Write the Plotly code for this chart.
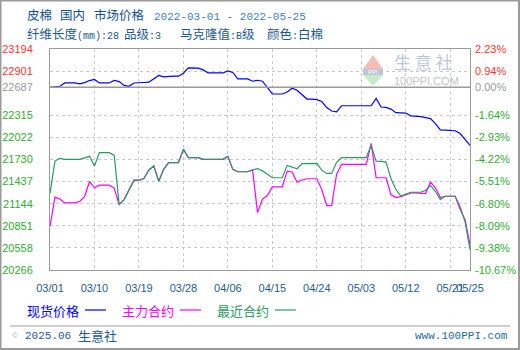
import pandas as pd
import plotly.graph_objects as go

# 皮棉 国内 市场价格, daily values 2022-03-01 .. 2022-05-25 (non-trading days carry the last quote)
dates = pd.date_range("2022-03-01", "2022-05-25", freq="D")

spot = [22687, 22694, 22700, 22744, 22744, 22744, 22731, 22748, 22776, 22791,
        22744, 22744, 22744, 22778, 22762, 22712, 22700, 22744, 22744, 22750,
        22754, 22794, 22844, 22824, 22832, 22834, 22834, 22873, 22944, 22944,
        22940, 22917, 22877, 22877, 22877, 22877, 22904, 22884, 22798, 22798,
        22798, 22767, 22780, 22767, 22682, 22598, 22598, 22598, 22624, 22674,
        22648, 22584, 22531, 22531, 22524, 22498, 22418, 22372, 22362, 22442,
        22442, 22442, 22442, 22442, 22442, 22442, 22540, 22425, 22421, 22398,
        22351, 22345, 22345, 22309, 22305, 22298, 22285, 22271, 22205, 22122,
        22120, 22119, 22111, 22074, 21998, 21918]

main_contract = [20844, 21232, 21206, 21155, 21155, 21155, 21173, 21239, 21439, 21355,
                 21390, 21390, 21390, 21352, 21133, 21199, 21322, 21456, 21456, 21479,
                 21592, 21643, 21443, 21599, 21688, 21688, 21688, 21865, 21755, 21755,
                 21755, 21732, 21732, 21732, 21732, 21732, 21772, 21599, 21568, 21568,
                 21568, 21592, 21026, 21206, 21252, 21368, 21368, 21368, 21576, 21565,
                 21430, 21459, 21475, 21475, 21475, 21332, 21119, 21119, 21532, 21665,
                 21665, 21665, 21665, 21665, 21665, 21945, 21488, 21488, 21488, 21266,
                 21226, 21239, 21266, 21288, 21288, 21288, 21279, 21430, 21355, 21226,
                 21243, 21243, 21243, 21066, 20933, 20600]

near_contract = [21279, 21709, 21745, 21732, 21732, 21732, 21732, 21752, 21772, 21645,
                 21821, 21821, 21821, 21785, 21133, 21199, 21322, 21456, 21456, 21479,
                 21592, 21643, 21443, 21599, 21688, 21688, 21688, 21865, 21755, 21755,
                 21755, 21732, 21732, 21732, 21732, 21732, 21772, 21599, 21568, 21568,
                 21568, 21592, 21608, 21579, 21532, 21488, 21488, 21488, 21652, 21625,
                 21608, 21675, 21679, 21679, 21679, 21589, 21545, 21545, 21692, 21755,
                 21755, 21755, 21755, 21755, 21755, 21918, 21709, 21705, 21696, 21479,
                 21332, 21246, 21266, 21296, 21296, 21296, 21319, 21386, 21306, 21199,
                 21243, 21243, 21243, 21106, 20906, 20533]

for s in (spot, main_contract, near_contract):
    if len(s) != len(dates):
        raise ValueError("series length mismatch")

base_price = 22687
y_ticks = [23194, 22901, 22687, 22315, 22022, 21730, 21437, 21144, 20851, 20558, 20266]
x_ticks = ["2022-03-01", "2022-03-10", "2022-03-19", "2022-03-28", "2022-04-06",
           "2022-04-15", "2022-04-24", "2022-05-03", "2022-05-12", "2022-05-21",
           "2022-05-25"]
x_labels = ["03/01", "03/10", "03/19", "03/28", "04/06", "04/15", "04/24",
            "05/03", "05/12", "05/21", "05/25"]
series_names = ["现货价格", "主力合约", "最近合约"]
series_colors = ["#0000ff", "#ff00ff", "#2e9a62"]

UP, FLAT, DOWN = "#ff3333", "#999999", "#33aa33"


def tick_color(v):
    return UP if v > base_price else (FLAT if v == base_price else DOWN)


left_text = [f"<span style='color:{tick_color(v)}'>{v}</span>" for v in y_ticks]
right_text = [f"<span style='color:{tick_color(v)}'>{(v / base_price - 1) * 100:.2f}%</span>"
              for v in y_ticks]

W, H = 520, 350
L, R, T, B = 50, 470, 49, 270


def px(x):
    return (x - L) / (R - L)


def py(y):
    return (B - y) / (B - T)


fig = go.Figure()
for name, ser, col in zip(series_names, [spot, main_contract, near_contract], series_colors):
    fig.add_trace(go.Scatter(x=dates, y=ser, mode="lines", name=name,
                             line=dict(color=col, width=1.2), showlegend=False,
                             hoverinfo="skip"))
# carrier for the percentage axis on the right
fig.add_trace(go.Scatter(x=[dates[0]], y=[base_price], yaxis="y2", mode="markers",
                         marker=dict(opacity=0), showlegend=False, hoverinfo="skip"))

tick_font = dict(family="Liberation Sans, Arial", size=11)
yrange = [min(y_ticks), max(y_ticks)]

fig.update_layout(
    width=W, height=H,
    margin=dict(l=L, r=W - R, t=T, b=H - B),
    paper_bgcolor="white", plot_bgcolor="white",
    xaxis=dict(range=[dates[0], dates[-1]], tickvals=x_ticks, ticktext=x_labels,
               tickangle=0,
               showgrid=True, gridcolor="#c8c8c8", griddash="3px,3px", gridwidth=1,
               showline=True, linecolor="#9a9a9a", linewidth=1, mirror=True,
               ticks="", ticklabelstandoff=8, zeroline=False, automargin=False,
               tickfont=dict(tick_font, color="#1f5c8c")),
    yaxis=dict(range=yrange, tickvals=y_ticks, ticktext=left_text,
               showgrid=True, gridcolor="#c8c8c8", griddash="3px,3px", gridwidth=1,
               showline=True, linecolor="#9a9a9a", linewidth=1, mirror=True,
               ticks="", ticklabelstandoff=14, zeroline=False, automargin=False,
               tickfont=tick_font),
    yaxis2=dict(range=yrange, tickvals=y_ticks, ticktext=right_text, overlaying="y",
                side="right", showgrid=False, showline=False, zeroline=False,
                ticks="", ticklabelstandoff=4, automargin=False, tickfont=tick_font),
)

shapes = []
# base price reference line
shapes.append(dict(type="line", xref="paper", yref="y", x0=0, x1=1,
                   y0=base_price, y1=base_price, line=dict(color="#9a9a9a", width=1.5)))
# outer frame and footer rule
shapes.append(dict(type="rect", xref="paper", yref="paper", x0=px(0.5), x1=px(519),
                   y0=py(0.5), y1=py(349), line=dict(color="#9a9a9a", width=2)))
shapes.append(dict(type="line", xref="paper", yref="paper", x0=px(10), x1=px(510),
                   y0=py(326), y1=py(326), line=dict(color="#a0a0a0", width=1)))

# watermark logo
shapes.append(dict(type="path", xref="paper", yref="paper", layer="below",
                   path=f"M {px(363)},{py(69)} L {px(383)},{py(69)} L {px(373)},{py(55)} Z",
                   fillcolor="#f6bdb5", line=dict(width=0)))
shapes.append(dict(type="rect", xref="paper", yref="paper", layer="below",
                   x0=px(363), x1=px(383), y0=py(75), y1=py(69),
                   fillcolor="#b9c6dc", line=dict(width=0)))
shapes.append(dict(type="path", xref="paper", yref="paper", layer="below",
                   path=f"M {px(363)},{py(75)} L {px(383)},{py(75)} L {px(373)},{py(86)} Z",
                   fillcolor="#c6ebc6", line=dict(width=0)))

annotations = []


def text(x, y, s, size=12.5, color="#104e8b", family="Liberation Mono, Noto Sans CJK SC",
         xanchor="left"):
    annotations.append(dict(x=px(x), y=py(y), xref="paper", yref="paper", text=s,
                            showarrow=False, xanchor=xanchor, yanchor="middle",
                            font=dict(family=family, size=size, color=color)))


# header
text(25, 16, "皮棉")
text(58, 16, "国内")
text(92, 16, "市场价格")
text(152, 16.5, "2022-03-01 - 2022-05-25", size=11, color="#3f7fb3")
text(25, 35, "纤维长度<span style='font-size:10px'>(mm):28</span>", color="#1b5a8c")
text(122, 35, "品级<span style='font-size:10px'>:3</span>", color="#1b5a8c")
text(178, 35, "马克隆值<span style='font-size:10px'>:B</span>级", color="#1b5a8c")
text(265, 35, "颜色<span style='font-size:10px'>:</span>白棉", color="#1b5a8c")

# watermark text
text(365.5, 72, "PPI", size=6, color="#ffffff", family="Liberation Sans")
text(392, 61, "生 意 社", size=17, color="#bcc6de", family="Noto Sans CJK SC")
text(392, 81, "100PPI.COM", size=11, color="#c4c4c4", family="Liberation Sans")

# legend: label followed by a line sample
legend_x = [25, 120, 215]
for name, col, lx in zip(series_names, series_colors, legend_x):
    text(lx, 310, name, size=13, color=col, family="Noto Sans CJK SC")
    shapes.append(dict(type="line", xref="paper", yref="paper", x0=px(lx + 60),
                       x1=px(lx + 81), y0=py(310), y1=py(310),
                       line=dict(color=col, width=1.2)))

# footer
text(10, 335, "©", size=8, color="#9fb3c8", family="Liberation Sans")
text(23, 335.5, "2025.06", size=11, color="#1f5c8c")
text(76, 335, "生意社", size=13, color="#1f5c8c", family="Noto Sans CJK SC")
text(510, 335.5, "www.100PPI.com", size=11, color="#2a6a9a", xanchor="right")

fig.update_layout(shapes=shapes, annotations=annotations)
fig.write_html("out.html")
